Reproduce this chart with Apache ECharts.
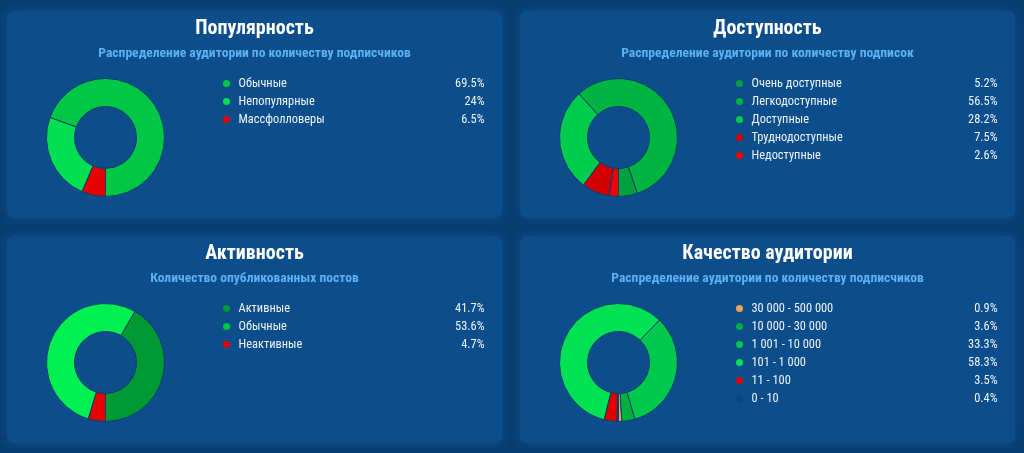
<!DOCTYPE html>
<html>
<head>
<meta charset="utf-8">
<script src="https://cdn.jsdelivr.net/npm/echarts@6/dist/echarts.min.js"></script>
<style>
  html, body { margin: 0; padding: 0; background: #093e71; }
  #main { width: 1024px; height: 453px; }
</style>
</head>
<body>
<div id="main"></div>
<script>
var FONT = "'Roboto Condensed', 'Liberation Sans Narrow', 'DejaVu Sans Condensed', Roboto, sans-serif";

// Популярность
var popNames = ['Обычные', 'Непопулярные', 'Массфолловеры'];
var popValues = [69.5, 24, 6.5];
var popColors = ['#00c846', '#00e052', '#e60000'];

// Доступность
var accNames = ['Очень доступные', 'Легкодоступные', 'Доступные', 'Труднодоступные', 'Недоступные'];
var accValues = [5.2, 56.5, 28.2, 7.5, 2.6];
var accColors = ['#00a03c', '#00b442', '#00cc4c', '#d20000', '#f00000'];

// Активность
var actNames = ['Активные', 'Обычные', 'Неактивные'];
var actValues = [41.7, 53.6, 4.7];
var actColors = ['#009a34', '#00f052', '#e60000'];

// Качество аудитории
var qualNames = ['30 000 - 500 000', '10 000 - 30 000', '1 001 - 10 000', '101 - 1 000', '11 - 100', '0 - 10'];
var qualValues = [0.9, 3.6, 33.3, 58.3, 3.5, 0.4];
var qualColors = ['#eaa65a', '#00b040', '#00c84c', '#00e254', '#e00000', '#0b447c'];

var panels = [
    { x: 7, y: 11, title: 'Популярность', sub: 'Распределение аудитории по количеству подписчиков',
      names: popNames, values: popValues, colors: popColors },
    { x: 520, y: 11, title: 'Доступность', sub: 'Распределение аудитории по количеству подписок',
      names: accNames, values: accValues, colors: accColors },
    { x: 7, y: 236, title: 'Активность', sub: 'Количество опубликованных постов',
      names: actNames, values: actValues, colors: actColors },
    { x: 520, y: 236, title: 'Качество аудитории', sub: 'Распределение аудитории по количеству подписчиков',
      names: qualNames, values: qualValues, colors: qualColors }
];
var PW = 495, PH = 207;

var chart = echarts.init(document.getElementById('main'));

var titles = [], legends = [], series = [], graphics = [];

panels.forEach(function (p, i) {
    graphics.push({
        type: 'rect', silent: true, z: -10,
        shape: { x: p.x, y: p.y, width: PW, height: PH, r: 7 },
        style: { fill: '#0c4d8c', shadowBlur: 10, shadowColor: 'rgba(22,92,165,0.55)' }
    });
    titles.push({
        text: p.title, left: p.x + PW / 2, top: p.y + 17.5, padding: 0,
        textAlign: 'center', textVerticalAlign: 'middle',
        textStyle: { color: '#ffffff', fontSize: 20, fontWeight: 'bold', fontFamily: FONT }
    });
    titles.push({
        text: p.sub, left: p.x + PW / 2, top: p.y + 43, padding: 0,
        textAlign: 'center', textVerticalAlign: 'middle',
        textStyle: { color: '#5cb0f4', fontSize: 13.6, fontWeight: 'bold', fontFamily: FONT }
    });

    var data = p.names.map(function (n, k) {
        return { name: n, value: p.values[k], itemStyle: { color: p.colors[k] } };
    });

    legends.push({
        seriesIndex: i,
        data: p.names,
        orient: 'vertical',
        left: p.x + 216, top: p.y + 65.5,
        padding: 0,
        icon: 'circle',
        itemWidth: 14, itemHeight: 7,
        itemGap: 4,
        selectedMode: false,
        itemStyle: { borderWidth: 0 },
        formatter: function (name) {
            var idx = p.names.indexOf(name);
            return '{n|' + name + '}{v|' + p.values[idx] + '%}';
        },
        textStyle: {
            color: '#eef3f8', fontFamily: FONT, fontSize: 12.4, lineHeight: 14,
            rich: {
                n: { width: 200, fontSize: 12.4, fontFamily: FONT, color: '#eef3f8' },
                v: { width: 46, align: 'right', fontSize: 12.4, fontFamily: FONT, color: '#eef3f8' }
            }
        }
    });

    series.push({
        type: 'pie',
        center: [p.x + 98.5, p.y + 126.5],
        radius: [31, 59],
        startAngle: 270,
        clockwise: false,
        avoidLabelOverlap: false,
        label: { show: false },
        labelLine: { show: false },
        emphasis: { disabled: true },
        itemStyle: { borderColor: '#0b3d6e', borderWidth: 1 },
        data: data
    });
});

chart.setOption({
    backgroundColor: '#093e71',
    animation: false,
    graphic: graphics,
    title: titles,
    legend: legends,
    series: series
});
</script>
</body>
</html>
